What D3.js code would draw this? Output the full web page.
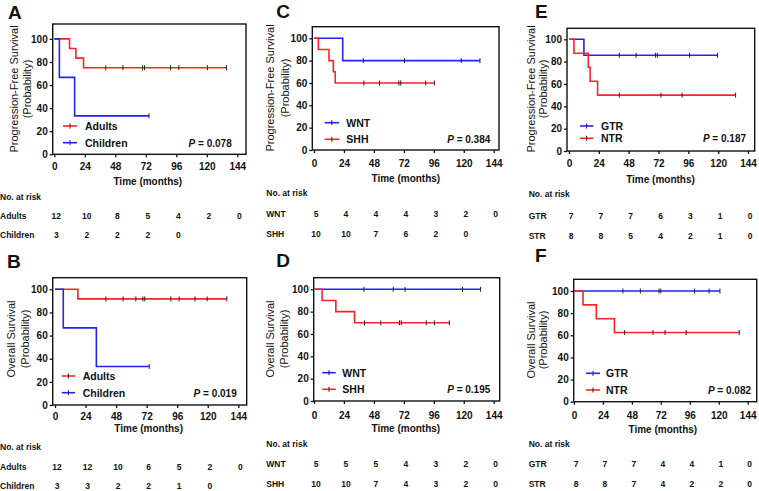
<!DOCTYPE html>
<html><head><meta charset="utf-8">
<script src="https://cdn.jsdelivr.net/npm/d3@7"></script>
<style>
body{margin:0;background:#fff}
svg{display:block}
text{font-family:"Liberation Sans",Arial,Helvetica,sans-serif;fill:#111}
</style>
</head><body>
<svg id="chart" width="759" height="491"></svg>
<script>
// ---------- DATA ----------
const xTicks = [0, 24, 48, 72, 96, 120, 144];
const yTicks = [0, 20, 40, 60, 80, 100];
const riskTimes = [0, 24, 48, 72, 96, 120, 144];

// A: PFS Adults vs Children
const adultsPfsTimes = [0, 12, 17, 23];
const adultsPfsSurv = [100, 91.7, 83.3, 75];
const adultsPfsEnd = 135.5;
const adultsPfsCensor = [40.5, 54, 69.5, 71, 91.5, 98, 120.5, 135.5];
const childrenPfsTimes = [0, 4, 16];
const childrenPfsSurv = [100, 66.7, 33.3];
const childrenPfsEnd = 74.5;
const childrenPfsCensor = [74.5];
const adultsPfsRisk = [12, 10, 8, 5, 4, 2, 0];
const childrenPfsRisk = [3, 2, 2, 2, 0];

// B: OS Adults vs Children
const adultsOsTimes = [0, 18];
const adultsOsSurv = [100, 91.7];
const adultsOsEnd = 135;
const adultsOsCensor = [40, 53.5, 63.5, 69, 70.5, 91, 97.5, 110, 119.5, 135];
const childrenOsTimes = [0, 6.5, 32.5];
const childrenOsSurv = [100, 66.7, 33.3];
const childrenOsEnd = 74;
const childrenOsCensor = [74];
const adultsOsRisk = [12, 12, 10, 6, 5, 2, 0];
const childrenOsRisk = [3, 3, 2, 2, 1, 0];

// C: PFS WNT vs SHH
const wntPfsTimes = [0, 23];
const wntPfsSurv = [100, 80];
const wntPfsEnd = 133;
const wntPfsCensor = [39.5, 72.5, 118, 133];
const shhPfsTimes = [0, 3.5, 12, 15.5, 17];
const shhPfsSurv = [100, 90, 80, 70, 60];
const shhPfsEnd = 96.5;
const shhPfsCensor = [40, 52.5, 68, 69.5, 89.5, 96.5];
const wntPfsRisk = [5, 4, 4, 4, 3, 2, 0];
const shhPfsRisk = [10, 10, 7, 6, 2, 0];

// D: OS WNT vs SHH
const wntOsTimes = [0];
const wntOsSurv = [100];
const wntOsEnd = 133.5;
const wntOsCensor = [40, 63.5, 73, 119, 133.5];
const shhOsTimes = [0, 6.5, 17.5, 32.5];
const shhOsSurv = [100, 90, 80, 70];
const shhOsEnd = 108.5;
const shhOsCensor = [40.5, 53.5, 68.5, 70, 90, 96.5, 108.5];
const wntOsRisk = [5, 5, 5, 4, 3, 2, 0];
const shhOsRisk = [10, 10, 7, 4, 3, 2, 0];

// E: PFS GTR vs NTR
const gtrPfsTimes = [0, 12];
const gtrPfsSurv = [100, 85.7];
const gtrPfsEnd = 119.5;
const gtrPfsCensor = [40.5, 54, 69.5, 71, 97, 119.5];
const ntrPfsTimes = [0, 4, 15.5, 17, 23];
const ntrPfsSurv = [100, 87.5, 75, 62.5, 50];
const ntrPfsEnd = 134;
const ntrPfsCensor = [40.5, 74, 91, 134];
const gtrPfsRisk = [7, 7, 7, 6, 3, 1, 0];
const strPfsRisk = [8, 8, 5, 4, 2, 1, 0];

// F: OS GTR vs NTR
const gtrOsTimes = [0];
const gtrOsSurv = [100];
const gtrOsEnd = 121;
const gtrOsCensor = [40.5, 55, 70.5, 72, 100, 112, 121];
const ntrOsTimes = [0, 7.5, 18.5, 33.5];
const ntrOsSurv = [100, 87.5, 75, 62.5];
const ntrOsEnd = 137;
const ntrOsCensor = [42, 65.5, 75.5, 93, 137];
const gtrOsRisk = [7, 7, 7, 4, 4, 1, 0];
const strOsRisk = [8, 8, 7, 4, 2, 2, 0];

const pValues = ["0.078", "0.019", "0.384", "0.195", "0.187", "0.082"];

// ---------- STYLE / LAYOUT ----------
const RED = "#ff2222", BLUE = "#2222ff";
const PFS = "Progression-Free Survival", OS = "Overall Survival";

function S(name, color, times, surv, end, censor){ return {name, color, times, surv, end, censor}; }

const panels = [
  {label:"A", title:PFS, p:pValues[0],
   left:52.7,right:246,top:24,bottom:154.3,x0:54.3,x144:237.3,y100:38.9,
   tickY:167,timeY:181,headY:197,rowY:[215.7,235],rowX:0,labX:8,labY:19,
   titleX:[14,27],titleY:89,leg:{x1:63,x2:77,y:[126,142.7],tx:85,px:231.7},
   series:[S("Adults",RED,adultsPfsTimes,adultsPfsSurv,adultsPfsEnd,adultsPfsCensor),
           S("Children",BLUE,childrenPfsTimes,childrenPfsSurv,childrenPfsEnd,childrenPfsCensor)],
   riskNames:["Adults","Children"], risk:[adultsPfsRisk, childrenPfsRisk]},
  {label:"B", title:OS, p:pValues[1],
   left:52.7,right:246.7,top:277.7,bottom:405,x0:55,x144:238.3,y100:289.3,
   tickY:416.7,timeY:428.3,headY:447.3,rowY:[466.7,486],rowX:0,labX:7,labY:268,
   titleX:[11,25],titleY:339,leg:{x1:61.7,x2:75,y:[376,392.7],tx:82.7,px:236.7},
   series:[S("Adults",RED,adultsOsTimes,adultsOsSurv,adultsOsEnd,adultsOsCensor),
           S("Children",BLUE,childrenOsTimes,childrenOsSurv,childrenOsEnd,childrenOsCensor)],
   riskNames:["Adults","Children"], risk:[adultsOsRisk, childrenOsRisk]},
  {label:"C", title:PFS, p:pValues[2],
   left:312.3,right:499,top:26.7,bottom:150,x0:314,x144:493.7,y100:38.3,
   tickY:163.3,timeY:178.3,headY:193.3,rowY:[214,234],rowX:266.3,labX:276.3,labY:18,
   titleX:[269.7,284.7],titleY:88,leg:{x1:324.7,x2:339,y:[122.7,139.3],tx:346.3,px:490.3},
   series:[S("WNT",BLUE,wntPfsTimes,wntPfsSurv,wntPfsEnd,wntPfsCensor),
           S("SHH",RED,shhPfsTimes,shhPfsSurv,shhPfsEnd,shhPfsCensor)],
   riskNames:["WNT","SHH"], risk:[wntPfsRisk, shhPfsRisk]},
  {label:"D", title:OS, p:pValues[3],
   left:313.7,right:499.7,top:277.7,bottom:401,x0:314,x144:493.7,y100:289.3,
   tickY:415,timeY:428.3,headY:444.3,rowY:[464.3,484],rowX:266.3,labX:276.3,labY:267,
   titleX:[269.7,284],titleY:339,leg:{x1:322.3,x2:335.7,y:[372.7,389.3],tx:342.3,px:490.3},
   series:[S("WNT",BLUE,wntOsTimes,wntOsSurv,wntOsEnd,wntOsCensor),
           S("SHH",RED,shhOsTimes,shhOsSurv,shhOsEnd,shhOsCensor)],
   riskNames:["WNT","SHH"], risk:[wntOsRisk, shhOsRisk]},
  {label:"E", title:PFS, p:pValues[4],
   left:567,right:754.7,top:28.3,bottom:151,x0:569,x144:748,y100:39.3,
   tickY:163.3,timeY:179.3,headY:194.3,rowY:[215.7,236],rowX:528.7,labX:535,labY:18,
   titleX:[531,543.3],titleY:89,leg:{x1:580,x2:593.3,y:[126,138.3],tx:601,px:746},
   series:[S("GTR",BLUE,gtrPfsTimes,gtrPfsSurv,gtrPfsEnd,gtrPfsCensor),
           S("NTR",RED,ntrPfsTimes,ntrPfsSurv,ntrPfsEnd,ntrPfsCensor)],
   riskNames:["GTR","STR"], risk:[gtrPfsRisk, strPfsRisk]},
  {label:"F", title:OS, p:pValues[5],
   left:573.7,right:756.7,top:279.3,bottom:401.7,x0:574,x144:747.7,y100:291,
   tickY:415.7,timeY:429,headY:444,rowY:[464.3,484],rowX:528.7,labX:535,labY:262,
   titleX:[531,542.7],titleY:340,leg:{x1:586,x2:600,y:[373.3,390],tx:606,px:751},
   series:[S("GTR",BLUE,gtrOsTimes,gtrOsSurv,gtrOsEnd,gtrOsCensor),
           S("NTR",RED,ntrOsTimes,ntrOsSurv,ntrOsEnd,ntrOsCensor)],
   riskNames:["GTR","STR"], risk:[gtrOsRisk, strOsRisk]}
];

const svg = d3.select("#chart");

function survAt(s, t){
  let v = s.surv[0];
  s.times.forEach((tt,i)=>{ if (tt <= t) v = s.surv[i]; });
  return v;
}

panels.forEach(P => {
  const g = svg.append("g");
  const x = d3.scaleLinear().domain([0,144]).range([P.x0, P.x144]);
  const y = d3.scaleLinear().domain([0,100]).range([P.bottom, P.y100]);

  // panel letter
  g.append("text").attr("x",P.labX).attr("y",P.labY)
    .attr("font-size",19).attr("font-weight","bold").text(P.label);

  // y axis
  const ya = g.append("g").attr("transform",`translate(${P.left},0)`)
    .call(d3.axisLeft(y).tickValues(yTicks).tickSize(3).tickPadding(2).tickSizeOuter(0));
  ya.select(".domain").remove();
  ya.selectAll(".tick line").attr("stroke","#111").attr("stroke-width",1.3);
  ya.selectAll(".tick text").attr("font-size",10).attr("font-weight","bold")
    .attr("font-family",'"Liberation Sans",Arial,sans-serif').attr("fill","#111");

  // x axis
  const xa = g.append("g").attr("transform",`translate(0,${P.bottom})`)
    .call(d3.axisBottom(x).tickValues(xTicks).tickSize(3).tickSizeOuter(0));
  xa.select(".domain").remove();
  xa.selectAll(".tick line").attr("stroke","#111").attr("stroke-width",1.3);
  xa.selectAll(".tick text").attr("font-size",10).attr("font-weight","bold")
    .attr("font-family",'"Liberation Sans",Arial,sans-serif').attr("fill","#111")
    .attr("y", P.tickY - P.bottom).attr("dy","0.35em");

  // frame
  g.append("rect").attr("x",P.left).attr("y",P.top)
    .attr("width",P.right-P.left).attr("height",P.bottom-P.top)
    .attr("fill","none").attr("stroke","#111").attr("stroke-width",1.4);

  // y title
  [P.title,"(Probability)"].forEach((t,i)=>{
    g.append("text").attr("transform",`translate(${P.titleX[i]},${P.titleY}) rotate(-90)`)
      .attr("text-anchor","middle").attr("dominant-baseline","central")
      .attr("font-size",11).text(t);
  });

  // curves
  const line = d3.line().x(d=>x(d[0])).y(d=>y(d[1])).curve(d3.curveStepAfter);
  P.series.forEach(s => {
    const pts = s.times.map((t,i)=>[t,s.surv[i]]);
    pts.push([s.end, s.surv[s.surv.length-1]]);
    g.append("path").attr("d",line(pts)).attr("fill","none")
      .attr("stroke",s.color).attr("stroke-width",1.6);
    g.selectAll(null).data(s.censor).enter().append("line")
      .attr("x1",d=>x(d)).attr("x2",d=>x(d))
      .attr("y1",d=>y(survAt(s,d))-2.5).attr("y2",d=>y(survAt(s,d))+2.5)
      .attr("stroke","#222").attr("stroke-width",1);
  });

  // legend
  P.series.forEach((s,i)=>{
    const ly = P.leg.y[i];
    g.append("line").attr("x1",P.leg.x1).attr("x2",P.leg.x2).attr("y1",ly).attr("y2",ly)
      .attr("stroke",s.color).attr("stroke-width",1.6);
    const mx = (P.leg.x1+P.leg.x2)/2;
    g.append("line").attr("x1",mx).attr("x2",mx).attr("y1",ly-2.5).attr("y2",ly+2.5)
      .attr("stroke","#222").attr("stroke-width",1);
    g.append("text").attr("x",P.leg.tx).attr("y",ly).attr("dominant-baseline","central")
      .attr("font-size",10.5).attr("font-weight","bold").text(s.name);
  });
  const pt = g.append("text").attr("x",P.leg.px).attr("y",P.leg.y[1])
    .attr("text-anchor","end").attr("dominant-baseline","central")
    .attr("font-size",10).attr("font-weight","bold");
  pt.append("tspan").attr("font-style","italic").text("P");
  pt.append("tspan").text(" = " + P.p);

  // x title
  g.append("text").attr("x",(x(0)+x(144))/2 + 2).attr("y",P.timeY)
    .attr("text-anchor","middle").attr("dominant-baseline","central")
    .attr("font-size",10).attr("font-weight","bold").text("Time (months)");

  // risk table
  g.append("text").attr("x",P.rowX).attr("y",P.headY).attr("dominant-baseline","central")
    .attr("font-size",8.5).attr("font-weight","bold").text("No. at risk");
  P.risk.forEach((r,ri)=>{
    g.append("text").attr("x",P.rowX).attr("y",P.rowY[ri]).attr("dominant-baseline","central")
      .attr("font-size",8.5).attr("font-weight","bold").text(P.riskNames[ri]);
    g.selectAll(null).data(r).enter().append("text")
      .attr("x",(d,i)=>x(riskTimes[i]) + 2).attr("y",P.rowY[ri])
      .attr("text-anchor","middle").attr("dominant-baseline","central")
      .attr("font-size",8.5).attr("font-weight","bold").text(d=>d);
  });
});
</script>
</body></html>
